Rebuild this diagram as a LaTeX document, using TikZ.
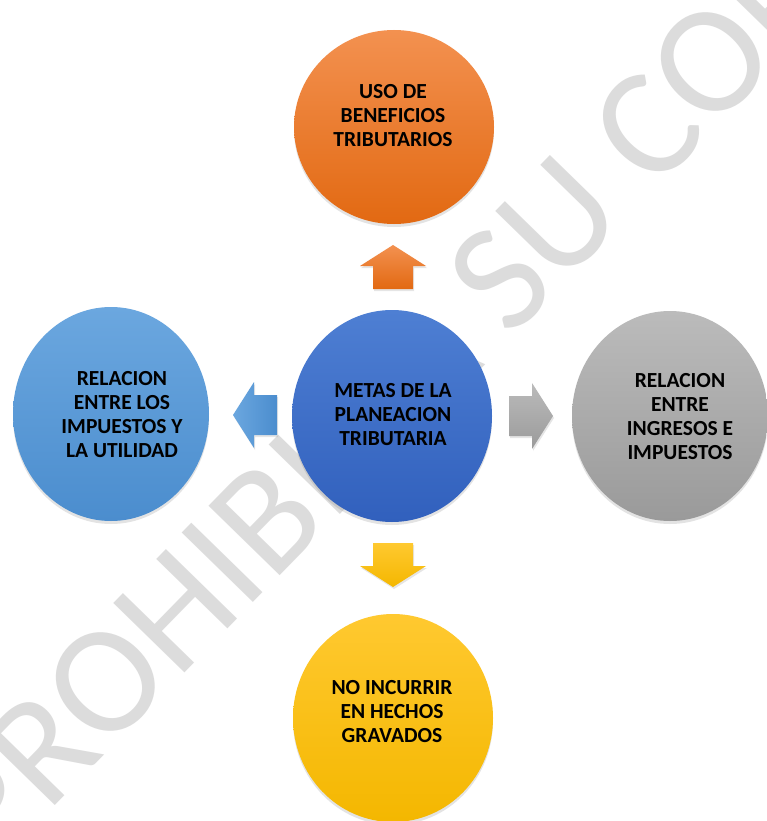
\documentclass[tikz,border=0pt]{standalone}
\usepackage{fontspec}
\setmainfont{Carlito}
\usetikzlibrary{shapes.geometric,shadows}
\definecolor{wmgray}{HTML}{DCDCDC}
\definecolor{orT}{HTML}{F39150}
\definecolor{orB}{HTML}{E26912}
\definecolor{cbT}{HTML}{4E7FD3}
\definecolor{cbB}{HTML}{3160BD}
\definecolor{lbT}{HTML}{6BA7DF}
\definecolor{lbB}{HTML}{4B8DCE}
\definecolor{grT}{HTML}{BBBBBB}
\definecolor{grB}{HTML}{9A9A9A}
\definecolor{yeT}{HTML}{FFC930}
\definecolor{yeB}{HTML}{F4B700}
\tikzset{
  bubble/.style={ellipse, inner sep=0pt, draw=none,
    drop shadow={shadow xshift=0pt, shadow yshift=-3pt, opacity=0.22}},
  lbl/.style={align=center, font=\bfseries\fontsize{21.5}{24}\selectfont, text=black, inner sep=0pt},
  blockarrow/.style={drop shadow={shadow xshift=1pt, shadow yshift=-2pt, opacity=0.2}}
}
\newcommand\blkarrow[4]{% tip x, tip y, angle, colour options
  \begin{scope}[shift={(#1,#2)}, rotate=#3]
    \path[blockarrow,#4] (0,0) -- (-21,33) -- (-21,20) -- (-44,20) -- (-44,-20) -- (-21,-20) -- (-21,-33) -- cycle;
  \end{scope}}
\begin{document}
\begin{tikzpicture}[x=1pt,y=-1pt]
\useasboundingbox (0,0) rectangle (767,821);
\fill[white] (0,0) rectangle (767,821);
% watermark
\begin{scope}
\clip (0,0) rectangle (767,821);
\node[rotate=45.7, text=wmgray, font=\fontsize{155}{155}\selectfont, inner sep=0pt] (wm) at (424.5,356) {PROHIBIDA SU COPIA};
\end{scope}
% circles
\node[bubble, minimum width=200pt, minimum height=194pt, top color=orT, bottom color=orB] (top) at (394,127) {};
\node[bubble, minimum width=200pt, minimum height=212pt, top color=cbT, bottom color=cbB] (mid) at (392,416) {};
\node[bubble, minimum width=196pt, minimum height=214pt, top color=lbT, bottom color=lbB] (lft) at (111,414) {};
\node[bubble, minimum width=196pt, minimum height=210pt, top color=grT, bottom color=grB] (rgt) at (670,416) {};
\node[bubble, minimum width=200pt, minimum height=208pt, top color=yeT, bottom color=yeB] (bot) at (393,718) {};
% labels
\node[lbl] (ttop) at (393,116) {USO DE\\BENEFICIOS\\TRIBUTARIOS};
\node[lbl] (tmid) at (393,415) {METAS DE LA\\PLANEACION\\TRIBUTARIA};
\node[lbl] (tlft) at (122,415) {RELACION\\ENTRE LOS\\IMPUESTOS Y\\LA UTILIDAD};
\node[lbl] (trgt) at (680,417) {RELACION\\ENTRE\\INGRESOS E\\IMPUESTOS};
\node[lbl] (tbot) at (392,712) {NO INCURRIR\\EN HECHOS\\GRAVADOS};
% block arrows
\blkarrow{393}{245}{90}{top color=orT, bottom color=orB}
\blkarrow{393}{587}{-90}{top color=yeT, bottom color=yeB}
\blkarrow{233}{415}{180}{left color=lbT, right color=lbB}
\blkarrow{553}{416}{0}{top color=grT, bottom color=grB}
\end{tikzpicture}
\end{document}
